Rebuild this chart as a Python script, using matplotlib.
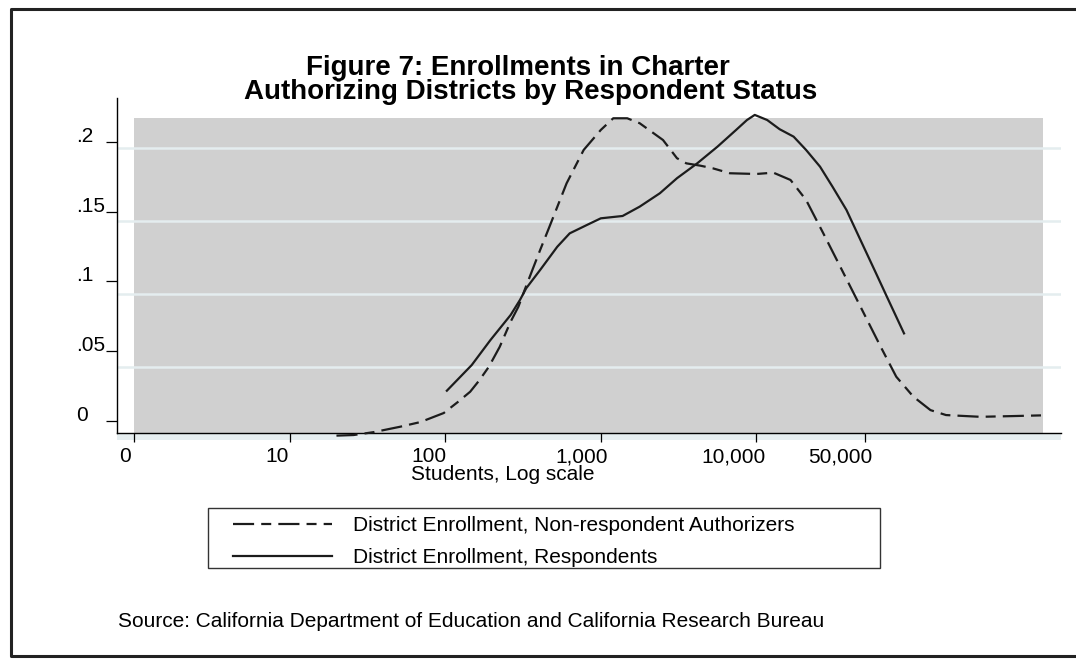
"""
Figure 7: kernel densities of district enrollment (log10 students)
for charter authorizing districts, respondents vs non-respondents.
Writes out.png
"""
import numpy as np
import matplotlib
matplotlib.use('Agg')
import matplotlib.pyplot as plt
from matplotlib.lines import Line2D
from matplotlib.patches import Rectangle

W, H = 1076, 661

# log10(students) and density
nonresp_log = [1.30, 1.41, 1.54, 1.71, 1.84, 1.99, 2.08, 2.16, 2.22, 2.28, 2.35,
               2.42, 2.47, 2.51, 2.56, 2.61, 2.67, 2.78, 2.89, 3.00, 3.08, 3.17,
               3.25, 3.40, 3.49, 3.55, 3.64, 3.72, 3.83, 4.00, 4.11, 4.22, 4.32,
               4.43, 4.54, 4.67, 4.80, 4.90, 5.01, 5.12, 5.22, 5.44, 5.65, 5.84]
nonresp_dens = [0.0027, 0.0031, 0.0051, 0.0088, 0.0120, 0.0182, 0.0257, 0.0328,
                0.0408, 0.0499, 0.0636, 0.0808, 0.0911, 0.1025, 0.1163, 0.1300,
                0.1460, 0.1757, 0.1986, 0.2123, 0.2203, 0.2203, 0.2169, 0.2054,
                0.1929, 0.1894, 0.1878, 0.1860, 0.1826, 0.1821, 0.1830, 0.1780,
                0.1643, 0.1416, 0.1185, 0.0911, 0.0636, 0.0431, 0.0294, 0.0202,
                0.0168, 0.0156, 0.0161, 0.0166]

resp_log = [2.01, 2.17, 2.29, 2.42, 2.48, 2.52, 2.61, 2.72, 2.80, 2.91, 3.00,
            3.14, 3.25, 3.38, 3.49, 3.62, 3.75, 3.87, 3.94, 3.99, 4.07, 4.15,
            4.24, 4.32, 4.41, 4.49, 4.58, 4.67, 4.77, 4.84, 4.95]
resp_dens = [0.0335, 0.0511, 0.0682, 0.0854, 0.0957, 0.1037, 0.1163, 0.1322,
             0.1414, 0.1471, 0.1517, 0.1533, 0.1597, 0.1689, 0.1792, 0.1894,
             0.2008, 0.2123, 0.2191, 0.2226, 0.2191, 0.2128, 0.2077, 0.1986,
             0.1871, 0.1734, 0.1574, 0.1368, 0.1140, 0.0979, 0.0728]

xtick_students = [1, 10, 100, 1000, 10000, 50000]
xtick_labels = ['0', '10', '100', '1,000', '10,000', '50,000']
ytick_vals = [0, 0.05, 0.1, 0.15, 0.2]
ytick_labels = ['0', '.05', '.1', '.15', '.2']
grid_vals = [0.05, 0.1, 0.15, 0.2]

TITLE1 = 'Figure 7: Enrollments in Charter'
TITLE2 = 'Authorizing Districts by Respondent Status'
XLABEL = 'Students, Log scale'
SOURCE = 'Source: California Department of Education and California Research Bureau'
LEG_LABELS = ['District Enrollment, Non-respondent Authorizers',
              'District Enrollment, Respondents']

plt.rcParams['font.family'] = ['Liberation Sans', 'DejaVu Sans']
INK = '#1c1c1c'
FS = 15
DASH = (9.5, 3.2, 4.5, 3.2)


def fx(x):
    return x / W


def fy(y):
    return 1 - y / H


fig = plt.figure(figsize=(W / 100, H / 100), dpi=100)
fig.patch.set_facecolor('white')

# plot region (pixels): x 117..1061, y 98..440
ax = fig.add_axes([fx(117), fy(440), (1061 - 117) / W, (440 - 98) / H])
ax.set_xlim(-0.1113, 5.9595)
ax.set_ylim(-0.0003, 0.2342)
ax.set_facecolor('white')

axis_y = 0.00425
ax.add_patch(Rectangle((ax.get_xlim()[0], ax.get_ylim()[0]), 6.1, axis_y + 0.0003,
                       color='#e6eef0', lw=0, zorder=0))
ax.add_patch(Rectangle((0, axis_y), 5.844, 0.2205 - axis_y,
                       color='#d0d0d0', lw=0, zorder=0))
for g in grid_vals:
    ax.axhline(g, color='#e4edef', lw=1.8, zorder=1)

ax.plot(nonresp_log, nonresp_dens, color=INK, lw=1.6, dashes=DASH, zorder=3)
ax.plot(resp_log, resp_dens, color=INK, lw=1.6, zorder=3)

for s in ['top', 'right']:
    ax.spines[s].set_visible(False)
ax.spines['bottom'].set_position(('data', axis_y))
ax.spines['left'].set_bounds(axis_y, ax.get_ylim()[1])
for s in ['bottom', 'left']:
    ax.spines[s].set_linewidth(1.0)
    ax.spines[s].set_color('black')

ax.set_xticks(np.log10(xtick_students))
ax.set_xticklabels([])
ax.tick_params(axis='x', direction='out', length=6.5, width=0.9, color='black')
ax.set_yticks([])

# tick labels sit on a slightly different scale than the tick marks
k1, b1 = 155.5, 134.3   # tick px per decade, px at 0
k2, b2 = 152.3, 124.5   # label px per decade, px at 0


def fwd_x(u):
    return (k1 * np.asarray(u) + b1 - b2) / k2


def inv_x(s):
    return (k2 * np.asarray(s) + b2 - b1) / k1


secx = ax.secondary_xaxis((440 - 433.3) / (440 - 98), functions=(fwd_x, inv_x))
secx.set_ticks(np.log10(xtick_students), labels=xtick_labels)
secx.tick_params(length=0, pad=10, labelsize=FS)
for s in secx.spines.values():
    s.set_visible(False)


# y tick marks and labels
def fwd_y(d):
    return (1458 * np.asarray(d) - 18.5) / 1396


def inv_y(v):
    return (1396 * np.asarray(v) + 18.5) / 1458


secy = ax.secondary_yaxis('left', functions=(fwd_y, inv_y))
secy.set_ticks(ytick_vals, labels=ytick_labels)
secy.tick_params(direction='out', length=8, width=0.9, pad=21.6, labelsize=FS)
plt.setp(secy.get_yticklabels(), ha='left', va='baseline')
for s in secy.spines.values():
    s.set_visible(False)

# titles and texts
fig.text(fx(518), fy(75), TITLE1, ha='center', va='baseline',
         fontsize=20, fontweight='bold', color='black')
fig.text(fx(531), fy(99), TITLE2, ha='center', va='baseline',
         fontsize=20, fontweight='bold', color='black')
fig.text(fx(503), fy(480), XLABEL, ha='center', va='baseline', fontsize=FS)
fig.text(fx(118), fy(627), SOURCE, ha='left', va='baseline', fontsize=FS)

# legend
fig.add_artist(Rectangle((fx(208), fy(568)), (880 - 208) / W, (568 - 508) / H,
                         transform=fig.transFigure, fill=False,
                         edgecolor='#333333', lw=1.0))
handles = [Line2D([], [], color=INK, lw=1.6, dashes=DASH),
           Line2D([], [], color=INK, lw=1.6)]
fig.legend(handles, LEG_LABELS, loc='upper left',
           bbox_to_anchor=(fx(233), fy(516)), frameon=False, fontsize=FS,
           borderpad=0, borderaxespad=0, handlelength=4.75, handletextpad=1.0,
           labelspacing=0.62)

# outer frame
fig.add_artist(Line2D([1.0, fx(10.5), fx(10.5), 1.0],
                      [fy(8.5), fy(8.5), fy(656), fy(656)],
                      transform=fig.transFigure, color='#222222', lw=2.2))

fig.savefig('out.png', dpi=100)
